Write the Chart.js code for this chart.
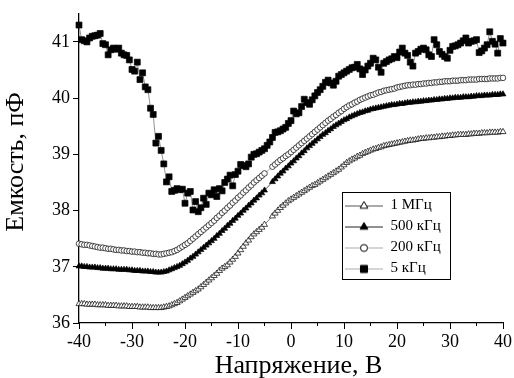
<!DOCTYPE html>
<html>
<head>
<meta charset="utf-8">
<script src="https://cdn.jsdelivr.net/npm/chart.js@4/dist/chart.umd.min.js"></script>
<style>
  body { margin: 0; background: #fff; }
  #wrap { width: 514px; height: 378px; }
</style>
</head>
<body>
<div id="wrap"><canvas id="cv" width="514" height="378"></canvas></div>
<script>
// voltage, V (step 0.5 V)
const voltage = [
  -40, -39.5, -39, -38.5, -38, -37.5, -37, -36.5, -36, -35.5,
  -35, -34.5, -34, -33.5, -33, -32.5, -32, -31.5, -31, -30.5,
  -30, -29.5, -29, -28.5, -28, -27.5, -27, -26.5, -26, -25.5,
  -25, -24.5, -24, -23.5, -23, -22.5, -22, -21.5, -21, -20.5,
  -20, -19.5, -19, -18.5, -18, -17.5, -17, -16.5, -16, -15.5,
  -15, -14.5, -14, -13.5, -13, -12.5, -12, -11.5, -11, -10.5,
  -10, -9.5, -9, -8.5, -8, -7.5, -7, -6.5, -6, -5.5,
  -5, -4.5, -4, -3.5, -3, -2.5, -2, -1.5, -1, -0.5,
  0, 0.5, 1, 1.5, 2, 2.5, 3, 3.5, 4, 4.5,
  5, 5.5, 6, 6.5, 7, 7.5, 8, 8.5, 9, 9.5,
  10, 10.5, 11, 11.5, 12, 12.5, 13, 13.5, 14, 14.5,
  15, 15.5, 16, 16.5, 17, 17.5, 18, 18.5, 19, 19.5,
  20, 20.5, 21, 21.5, 22, 22.5, 23, 23.5, 24, 24.5,
  25, 25.5, 26, 26.5, 27, 27.5, 28, 28.5, 29, 29.5,
  30, 30.5, 31, 31.5, 32, 32.5, 33, 33.5, 34, 34.5,
  35, 35.5, 36, 36.5, 37, 37.5, 38, 38.5, 39, 39.5,
  40
];

// capacitance, pF (null = no point measured)
const cap1MHz = [
  36.34, 36.34, 36.34, 36.33, 36.33, 36.33, 36.33, 36.32, 36.32, 36.32,
  36.32, 36.31, 36.31, 36.31, 36.31, 36.30, 36.30, 36.30, 36.30, 36.29,
  36.29, 36.29, 36.29, 36.28, 36.28, 36.28, 36.28, 36.27, 36.27, 36.27,
  36.27, 36.27, 36.28, 36.29, 36.30, 36.32, 36.34, 36.36, 36.39, 36.42,
  36.45, 36.48, 36.51, 36.54, 36.57, 36.60, 36.64, 36.68, 36.72, 36.76,
  36.80, 36.84, 36.88, 36.93, 36.97, 37.00, 37.03, 37.08, 37.13, 37.18,
  37.24, 37.30, 37.36, 37.42, 37.47, 37.53, 37.58, 37.62, 37.66, 37.70,
  37.75, null, null, 37.90, 37.95, 38.00, 38.05, 38.09, 38.13, 38.17,
  38.20, 38.23, 38.26, 38.29, 38.32, 38.35, 38.38, 38.41, 38.44, 38.46,
  38.49, 38.52, 38.55, 38.58, 38.61, 38.64, 38.67, 38.70, 38.73, 38.77,
  38.81, 38.85, 38.88, 38.91, 38.93, 38.96, 38.98, 39.01, 39.03, 39.05,
  39.07, 39.09, 39.10, 39.12, 39.13, 39.15, 39.16, 39.17, 39.18, 39.19,
  39.20, 39.21, 39.22, 39.23, 39.24, 39.25, 39.25, 39.26, 39.27, 39.28,
  39.28, 39.29, 39.29, 39.30, 39.30, 39.31, 39.31, 39.32, 39.32, 39.33,
  39.33, 39.34, 39.34, 39.35, 39.35, 39.35, 39.35, 39.36, 39.36, 39.37,
  39.37, 39.37, 39.38, 39.38, 39.38, 39.39, 39.39, 39.39, 39.39, 39.40,
  39.40
];
const cap500kHz = [
  37.01, 37.01, 37.00, 37.00, 36.99, 36.99, 36.99, 36.98, 36.98, 36.97,
  36.97, 36.97, 36.96, 36.96, 36.96, 36.95, 36.95, 36.95, 36.95, 36.94,
  36.94, 36.93, 36.93, 36.93, 36.92, 36.92, 36.92, 36.91, 36.91, 36.90,
  36.90, 36.90, 36.91, 36.92, 36.94, 36.96, 36.98, 37.00, 37.02, 37.05,
  37.08, 37.11, 37.15, 37.18, 37.22, 37.26, 37.30, 37.34, 37.38, 37.42,
  37.46, 37.50, 37.55, 37.59, 37.64, 37.68, 37.73, 37.77, 37.82, 37.86,
  37.91, 37.95, 38.00, 38.04, 38.09, 38.13, 38.18, 38.22, 38.27, 38.31,
  38.36, null, null, 38.51, 38.56, 38.61, 38.66, 38.70, 38.75, 38.79,
  38.84, 38.88, 38.93, 38.97, 39.02, 39.06, 39.11, 39.15, 39.19, 39.23,
  39.27, 39.31, 39.35, 39.38, 39.42, 39.45, 39.49, 39.52, 39.55, 39.58,
  39.61, 39.63, 39.66, 39.68, 39.70, 39.72, 39.74, 39.75, 39.77, 39.78,
  39.80, 39.81, 39.82, 39.83, 39.84, 39.85, 39.86, 39.87, 39.88, 39.88,
  39.89, 39.90, 39.90, 39.91, 39.92, 39.92, 39.93, 39.93, 39.94, 39.94,
  39.95, 39.95, 39.96, 39.96, 39.97, 39.97, 39.98, 39.98, 39.99, 39.99,
  40.00, 40.00, 40.01, 40.01, 40.01, 40.02, 40.02, 40.02, 40.03, 40.03,
  40.04, 40.04, 40.04, 40.05, 40.05, 40.05, 40.06, 40.06, 40.06, 40.07,
  40.07
];
const cap200kHz = [
  37.41, 37.40, 37.39, 37.39, 37.38, 37.37, 37.36, 37.35, 37.34, 37.34,
  37.33, 37.32, 37.32, 37.31, 37.30, 37.30, 37.29, 37.29, 37.28, 37.28,
  37.27, 37.27, 37.26, 37.26, 37.25, 37.25, 37.24, 37.24, 37.23, 37.23,
  37.22, 37.22, 37.23, 37.24, 37.25, 37.26, 37.28, 37.30, 37.33, 37.36,
  37.39, 37.42, 37.46, 37.50, 37.54, 37.58, 37.62, 37.66, 37.70, 37.74,
  37.78, 37.82, 37.87, 37.91, 37.96, 38.00, 38.05, 38.09, 38.14, 38.18,
  38.23, 38.27, 38.32, 38.36, 38.41, 38.45, 38.50, 38.54, 38.58, 38.62,
  38.66, null, null, 38.78, 38.82, 38.86, 38.90, 38.93, 38.97, 39.00,
  39.04, 39.08, 39.12, 39.16, 39.20, 39.24, 39.28, 39.32, 39.36, 39.40,
  39.44, 39.48, 39.52, 39.56, 39.60, 39.63, 39.67, 39.70, 39.74, 39.77,
  39.81, 39.84, 39.87, 39.89, 39.92, 39.94, 39.97, 39.99, 40.01, 40.03,
  40.05, 40.06, 40.08, 40.10, 40.11, 40.13, 40.14, 40.15, 40.16, 40.17,
  40.19, 40.20, 40.21, 40.22, 40.23, 40.23, 40.24, 40.24, 40.25, 40.25,
  40.26, 40.26, 40.27, 40.27, 40.28, 40.28, 40.29, 40.29, 40.30, 40.30,
  40.30, 40.31, 40.31, 40.31, 40.32, 40.32, 40.32, 40.33, 40.33, 40.33,
  40.33, 40.34, 40.34, 40.34, 40.34, 40.35, 40.35, 40.35, 40.35, 40.36,
  40.36
];
const cap5kHz = [
  41.30, 41.04, 41.02, 41.00, 41.07, 41.10, 41.11, 41.12, 41.15, 40.97,
  40.95, 40.77, 40.86, 40.89, 40.87, 40.89, 40.80, 40.77, 40.76, 40.68,
  40.51, 40.48, 40.64, 40.33, 40.45, 40.20, 40.15, 39.82, 39.71, 39.20,
  39.32, 39.07, 38.83, 38.51, 38.60, 38.34, 38.36, 38.39, 38.37, 38.38,
  38.13, 38.31, 38.34, 38.01, 38.16, 37.98, 38.05, 38.22, 38.11, 38.31,
  38.28, 38.37, 38.25, 38.39, 38.35, 38.50, 38.56, 38.63, 38.44, 38.64,
  38.70, 38.82, 38.80, 38.78, 38.83, 38.95, 39.00, 39.01, 39.04, 39.07,
  39.10, 39.16, 39.22, 39.30, 39.39, 39.40, 39.42, 39.45, 39.48, 39.55,
  39.60, 39.77, 39.72, 39.74, 39.85, 39.98, 39.92, 39.89, 39.97, 40.04,
  40.10, 40.15, 40.21, 40.28, 40.32, 40.27, 40.23, 40.30, 40.39, 40.42,
  40.45, 40.48, 40.51, 40.54, 40.55, 40.60, 40.52, 40.42, 40.50, 40.57,
  40.62, 40.71, 40.68, 40.55, 40.46, 40.62, 40.65, 40.68, 40.70, 40.74,
  40.72, 40.82, 40.89, 40.80, 40.76, 40.64, 40.57, 40.80, 40.83, 40.87,
  40.89, 40.86, 40.77, 40.74, 41.04, 40.95, 40.83, 40.78, 40.74, 40.71,
  40.85, 40.92, 40.93, 40.95, 40.98, 41.02, 41.07, 40.98, 41.01, 41.02,
  41.04, 40.81, 40.84, 40.89, 40.95, 41.18, 41.01, 40.96, 40.80, 41.06,
  40.98
];

const seriesNames = ["1 МГц", "500 кГц", "200 кГц", "5 кГц"];
const xTicksMajor = 10, xTicksMinor = 5;
const yTicksMajor = 1, yTicksMinor = 0.1;

const serif = "'Liberation Serif', 'Times New Roman', serif";

// legend icon: line - marker - line
function makeIcon(style, fill, lineColor, r) {
  const c = document.createElement("canvas");
  c.width = 38;
  c.height = 14;
  const g = c.getContext("2d");
  g.strokeStyle = lineColor;
  g.lineWidth = 1;
  g.beginPath();
  g.moveTo(0, 7.5);
  g.lineTo(38, 7.5);
  g.stroke();
  g.fillStyle = fill;
  g.strokeStyle = "#000";
  Chart.helpers.drawPoint(g, { pointStyle: style, radius: r, borderWidth: 1 }, 19, 7.5);
  return c;
}

const icons = [
  makeIcon("triangle", "#fff", "#555", 4.5),
  makeIcon("triangle", "#000", "#222", 4.5),
  makeIcon("circle", "#fff", "#aaa", 3.5),
  makeIcon("rect", "#000", "#aaa", 5)
];

// shift only the title of a scale, leaving its axis line alone
function shiftTitle(scale, key, delta) {
  if (scale._titleShifted) return;
  scale._titleShifted = true;
  const draw = scale.drawTitle;
  scale.drawTitle = function () {
    const keep = this[key];
    this[key] += delta;
    draw.call(this);
    this[key] = keep;
  };
}

const legendFrame = {
  id: "legendFrame",
  afterLayout(chart) {
    const lg = chart.legend;
    const h = lg.bottom - lg.top;
    lg.left = 339;
    lg.top = 192;
    lg.right = lg.left + lg.width;
    lg.bottom = lg.top + h;
    shiftTitle(chart.scales.x, "right", 15);
    shiftTitle(chart.scales.y, "top", -13);
  },
  afterDraw(chart) {
    const ctx = chart.ctx;
    ctx.save();
    ctx.strokeStyle = "#000";
    ctx.lineWidth = 1;
    ctx.strokeRect(342.5, 192.5, 108, 87);
    ctx.restore();
  }
};

function dataset(i, values, style, bg, line, r) {
  return {
    label: seriesNames[i],
    data: values,
    pointStyle: style,
    pointRadius: r,
    pointBackgroundColor: bg,
    pointBorderColor: "#000",
    pointBorderWidth: 0.7,
    borderColor: line,
    borderWidth: 0.8,
    tension: 0,
    spanGaps: true,
    clip: false
  };
}

new Chart(document.getElementById("cv"), {
  type: "line",
  data: {
    labels: voltage,
    datasets: [
      dataset(0, cap1MHz, "triangle", "#fff", "#555", 3.5),
      dataset(1, cap500kHz, "triangle", "#000", "#222", 3.4),
      dataset(2, cap200kHz, "circle", "#fff", "#999", 2.8),
      dataset(3, cap5kHz, "rect", "#000", "#777", 4.2)
    ]
  },
  options: {
    responsive: false,
    animation: false,
    devicePixelRatio: 1,
    layout: { padding: { top: 10, right: 9, left: 0, bottom: 0 } },
    plugins: {
      tooltip: { enabled: false },
      legend: {
        position: "chartArea",
        align: "start",
        labels: {
          usePointStyle: true,
          pointStyleWidth: 38,
          padding: 6,
          color: "#000",
          textAlign: "left",
          font: { family: serif, size: 15 },
          generateLabels: (chart) =>
            chart.data.datasets.map((ds, i) => ({
              text: ds.label,
              pointStyle: icons[i],
              datasetIndex: i,
              fontColor: "#000",
              fillStyle: "transparent",
              strokeStyle: "transparent",
              lineWidth: 0,
              hidden: false,
              textAlign: "left"
            }))
        }
      }
    },
    scales: {
      y: {
        type: "linear",
        position: "left",
        min: 36,
        max: 41.5,
        ticks: {
          stepSize: yTicksMajor,
          includeBounds: false,
          padding: 3,
          color: "#000",
          font: { family: serif, size: 18 }
        },
        grid: { drawOnChartArea: false, tickLength: 6, color: "#000", lineWidth: 1 },
        border: { color: "#000", width: 1.3 },
        title: {
          display: true,
          text: "Емкость, пФ",
          color: "#000",
          font: { family: serif, size: 26 },
          padding: { top: 0.6, bottom: 0 }
        },
        afterFit: (s) => { s.width = 79; }
      },
      yMinor: {
        type: "linear",
        position: "left",
        min: 36,
        max: 41.5,
        ticks: { display: false, stepSize: yTicksMinor, includeBounds: false },
        grid: { drawOnChartArea: false, tickLength: 3, color: "#000", lineWidth: 1 },
        border: { display: false },
        afterFit: (s) => { s.width = 0; }
      },
      xMinor: {
        type: "linear",
        position: "bottom",
        min: -40,
        max: 40,
        ticks: { display: false, stepSize: xTicksMinor },
        grid: { drawOnChartArea: false, tickLength: 3, color: "#000", lineWidth: 1 },
        border: { display: false },
        afterFit: (s) => { s.height = 0; }
      },
      x: {
        type: "linear",
        position: "bottom",
        min: -40,
        max: 40,
        ticks: {
          stepSize: xTicksMajor,
          padding: 2,
          color: "#000",
          maxRotation: 0,
          font: { family: serif, size: 18 }
        },
        grid: { drawOnChartArea: false, tickLength: 6, color: "#000", lineWidth: 1 },
        border: { color: "#000", width: 1.3 },
        title: {
          display: true,
          text: "Напряжение, В",
          color: "#000",
          font: { family: serif, size: 26, lineHeight: 0.9 },
          padding: 0
        },
        afterFit: (s) => { s.height = 55; }
      }
    }
  },
  plugins: [legendFrame]
});
</script>
</body>
</html>
